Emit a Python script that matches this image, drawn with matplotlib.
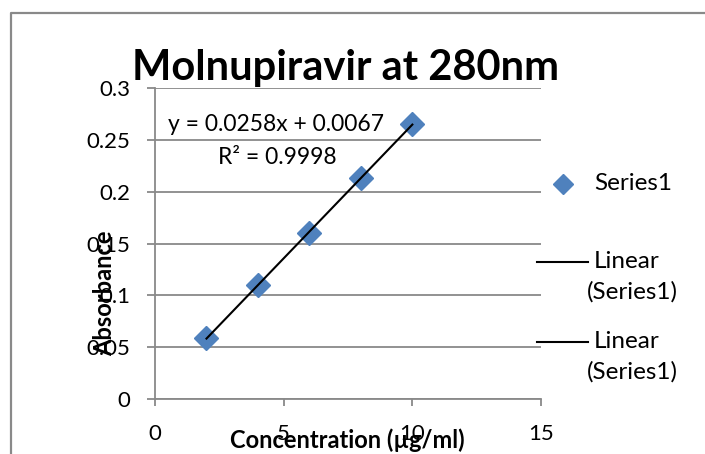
import numpy as np
import matplotlib
matplotlib.use("Agg")
from matplotlib import pyplot as plt
from matplotlib.lines import Line2D

plt.rcParams['font.family'] = ['Lato', 'DejaVu Sans']

# readings
conc = [2, 4, 6, 8, 10]
absorb = [0.059, 0.110, 0.160, 0.213, 0.265]
slope = 0.0258
intercept = 0.0067
r2 = 0.9998
x_ticks = [0, 5, 10, 15]
y_ticks = [0, 0.05, 0.1, 0.15, 0.2, 0.25, 0.3]
y_tick_labels = ['0', '0.05', '0.1', '0.15', '0.2', '0.25', '0.3']

blue = '#4F81BD'
grey = '#898989'

fig = plt.figure(figsize=(7.05, 4.54), dpi=100)
ax = fig.add_axes([0.2199, 0.1211, 0.5475, 0.6851])

# grid + axes
ax.set_xlim(0, 15)
ax.set_ylim(0, 0.3)
ax.set_xticks(x_ticks)
ax.set_yticks(y_ticks)
ax.set_yticklabels(y_tick_labels)
ax.yaxis.grid(True, color=grey, linewidth=1.3)
ax.set_axisbelow(True)
for s in ['top', 'right']:
    ax.spines[s].set_visible(False)
for s in ['left', 'bottom']:
    ax.spines[s].set_color(grey)
    ax.spines[s].set_linewidth(1.3)
ax.tick_params(axis='both', colors=grey, width=1.3, labelcolor='black', labelsize=16)
ax.tick_params(axis='x', length=5, pad=13)
ax.tick_params(axis='y', length=6, pad=12)

# data and trendline
ax.plot(conc, absorb, 'D', color=blue, markersize=12, zorder=3, clip_on=False)
xfit = np.array([conc[0], conc[-1]])
ax.plot(xfit, slope * xfit + intercept, color='black', linewidth=1.5, zorder=4)

ax.text(0.3135, 0.881, 'y = %.4fx + %.4f' % (slope, intercept), transform=ax.transAxes,
        ha='center', va='center', fontsize=16.5)
ax.text(0.3161, 0.775, 'R² = %.4f' % r2, transform=ax.transAxes,
        ha='center', va='center', fontsize=16.5)

ax.set_title('Molnupiravir at 280nm', fontsize=30, fontweight='bold', x=0.4948, y=1.026, pad=0)
ax.set_xlabel('Concentration (µg/ml)', fontsize=17, fontweight='bold')
ax.xaxis.set_label_coords(0.497, -0.093)
ax.set_ylabel('Absorbance', fontsize=17, fontweight='bold', va='center')
ax.yaxis.set_label_coords(-0.1295, 0.341)

# legend drawn by hand to follow the original placement
def fx(px):
    return px / 705.0

def fy(py):
    return 1 - py / 454.0

fig.add_artist(Line2D([fx(563)], [fy(184)], marker='D', color=blue, markersize=10.5, linestyle='none'))
fig.text(fx(594), fy(184), 'Series1', va='center', fontsize=17.5)
for yy in [262, 342]:
    fig.add_artist(Line2D([fx(537), fx(588)], [fy(yy), fy(yy)], color='black', linewidth=1.5))
    fig.text(fx(594), fy(yy), 'Linear', va='center', fontsize=17.5)
    fig.text(fx(587), fy(yy + 30), '(Series1)', va='center', fontsize=17.5)

# outer chart frame (cropped at right/bottom)
fig.add_artist(Line2D([fx(11), fx(11), 1.0], [0.0, fy(13), fy(13)], color=grey, linewidth=1.6))

fig.savefig('out.png', dpi=100)
